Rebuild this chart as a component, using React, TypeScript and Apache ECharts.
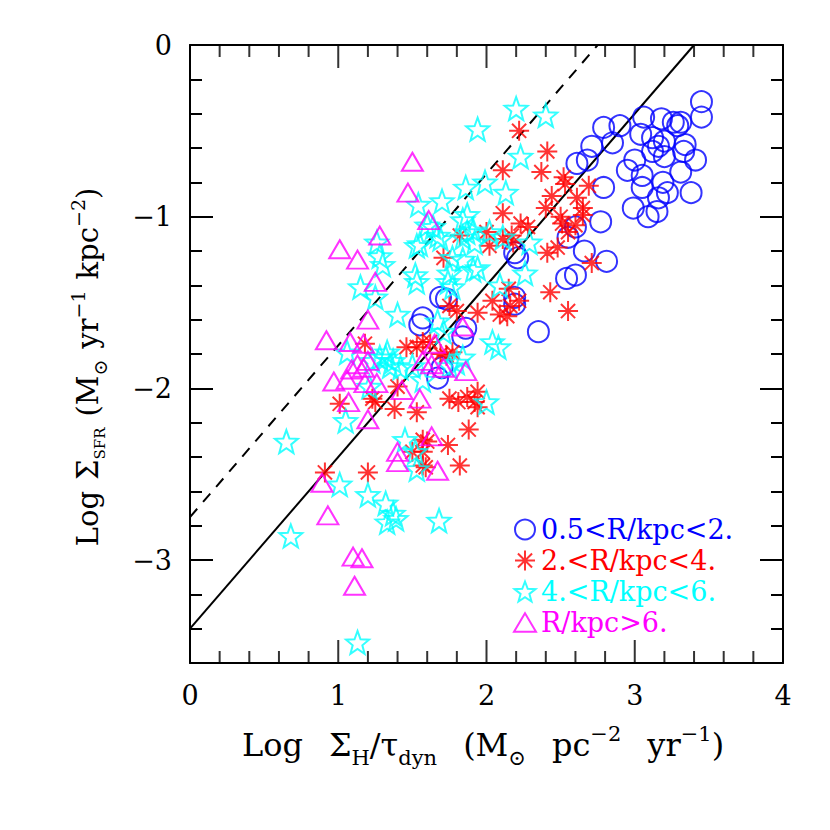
import React, { useEffect, useRef } from "react";
import * as echarts from "echarts";

// ---- data (Log Σ_H/τ_dyn , Log Σ_SFR) ----
const innerPoints: number[][] = [
  [3.45, -0.33], [3.45, -0.42], [2.79, -0.48], [2.90, -0.47], [3.04, -0.52], [3.06, -0.42],
  [3.18, -0.43], [3.26, -0.45], [3.31, -0.45], [3.29, -0.47], [3.12, -0.54], [3.20, -0.56],
  [3.16, -0.59], [3.34, -0.58], [3.33, -0.62], [3.41, -0.67], [3.12, -0.62], [3.20, -0.65],
  [3.00, -0.67], [2.95, -0.73], [3.05, -0.76], [3.31, -0.74], [3.05, -0.83], [3.19, -0.80],
  [3.22, -0.86], [3.16, -0.89], [3.38, -0.86], [2.99, -0.95], [3.09, -1.00], [3.15, -0.97],
  [2.85, -0.57], [2.71, -0.59], [2.68, -0.67], [2.61, -0.69], [2.79, -0.83], [2.77, -1.03],
  [2.60, -1.06], [2.55, -1.12], [2.66, -1.20], [2.81, -1.26], [2.60, -1.34], [2.54, -1.36],
  [2.19, -1.21], [2.21, -1.24], [2.19, -1.47], [2.19, -1.51], [2.35, -1.67], [1.69, -1.47],
  [1.73, -1.48], [1.57, -1.59], [1.55, -1.63], [1.67, -1.94], [1.70, -1.88], [1.84, -1.70],
  [1.86, -1.65],
];

const midPoints: number[][] = [
  [2.22, -0.50], [2.41, -0.62], [2.37, -0.74], [2.11, -0.73], [2.11, -0.98], [2.23, -1.04],
  [2.28, -1.06], [2.44, -0.88], [2.40, -0.95], [2.52, -0.77], [2.53, -0.81], [2.61, -0.89],
  [2.69, -0.82], [2.65, -0.95], [2.65, -0.99], [2.50, -1.00], [2.51, -1.04], [2.55, -1.09],
  [2.48, -1.18], [2.41, -1.21], [2.02, -1.17], [2.18, -1.15], [2.71, -1.27], [2.43, -1.44],
  [2.15, -1.42], [2.00, -1.09], [2.60, -1.05], [2.55, -1.55], [2.04, -1.49], [2.14, -1.58],
  [2.22, -1.49], [1.82, -1.11], [2.17, -1.11], [2.11, -1.13], [1.71, -1.24], [2.16, -1.52],
  [2.09, -1.57], [1.75, -1.52], [1.80, -1.55], [1.94, -1.56], [1.57, -1.73], [1.53, -1.76],
  [1.46, -1.76], [1.62, -1.73], [1.73, -1.81], [1.77, -1.79], [1.40, -1.99], [1.25, -2.08],
  [1.38, -2.12], [1.53, -2.14], [1.75, -2.06], [1.81, -2.08], [1.87, -2.05], [1.94, -2.02],
  [1.94, -2.11], [1.88, -2.24], [1.18, -1.74], [1.01, -2.09], [1.23, -2.06], [1.57, -2.30],
  [1.74, -2.33], [1.57, -2.37], [1.82, -2.45], [1.57, -2.45], [1.20, -2.49], [0.91, -2.49],
  [1.92, -2.08], [1.50, -2.37], [1.59, -2.46], [1.60, -2.31], [1.69, -1.80],
];

const outerPoints: number[][] = [
  [2.20, -0.37], [2.40, -0.41], [1.94, -0.49], [2.23, -0.65], [2.13, -0.86], [1.99, -0.80],
  [1.86, -0.83], [1.70, -0.91], [1.54, -0.93], [1.87, -0.99], [2.02, -1.09], [2.29, -1.15],
  [2.26, -1.33], [2.09, -1.40], [1.67, -1.11], [1.60, -1.05], [1.53, -1.17], [1.84, -1.12],
  [1.91, -1.08], [1.77, -1.24], [1.91, -1.31], [1.74, -1.38], [1.52, -1.34], [1.53, -1.38],
  [1.26, -1.15], [1.28, -1.23], [1.30, -1.28], [1.15, -1.41], [1.25, -1.47], [1.84, -1.02],
  [1.87, -1.09], [1.92, -1.15], [2.11, -1.12], [1.64, -1.06], [1.55, -1.16], [1.69, -1.13],
  [1.84, -1.25], [1.94, -1.30], [1.75, -1.33], [1.77, -1.41], [1.40, -1.57], [1.67, -1.61],
  [1.71, -1.67], [1.33, -1.79], [1.28, -1.82], [1.37, -1.84], [1.23, -1.84], [1.42, -1.88],
  [1.50, -1.87], [1.57, -1.95], [1.75, -1.87], [1.84, -1.82], [2.00, -2.08], [2.04, -1.73],
  [1.05, -2.19], [0.65, -2.31], [2.08, -1.76], [1.45, -2.30], [1.53, -2.47], [1.80, -1.85],
  [1.52, -2.37], [1.32, -1.82], [1.35, -1.87], [1.01, -2.56], [1.20, -2.62], [1.32, -2.67],
  [1.33, -2.78], [1.39, -2.76], [1.68, -2.77], [0.68, -2.86], [1.13, -3.48], [1.37, -2.73],
  [1.06, -1.79], [1.21, -1.99],
];

const farPoints: number[][] = [
  [1.50, -0.68], [1.47, -0.86], [1.61, -1.02], [1.28, -1.11], [1.01, -1.19], [1.13, -1.25],
  [1.25, -1.38], [1.20, -1.60], [0.92, -1.72], [1.08, -1.73], [1.17, -1.74], [1.13, -1.86],
  [1.20, -1.84], [1.17, -1.88], [1.09, -1.89], [0.97, -1.96], [1.06, -1.95], [1.18, -1.97],
  [1.26, -1.97], [1.07, -2.08], [1.20, -2.18], [1.43, -2.01], [1.55, -2.06], [1.63, -2.28],
  [1.40, -2.37], [1.40, -2.43], [1.67, -2.48], [1.84, -1.64], [1.86, -1.90], [1.57, -1.84],
  [1.63, -1.86], [1.71, -1.88], [0.89, -2.55], [0.93, -2.74], [1.10, -2.98], [1.16, -2.99],
  [1.11, -3.15], [1.65, -1.74],
];

// reference relations: Log Σ_SFR = Log Σ_H/τ_dyn + intercept
const solidIntercept = -3.4;
const dashedIntercept = -2.75;

const xRange = [0, 4];
const yRange = [-3.6, 0];
const xMajorTicks = [0, 1, 2, 3, 4];
const yMajorTicks = [-3, -2, -1, 0];
const minorStep = 0.2;

const legendNames = ["0.5<R/kpc<2.", "2.<R/kpc<4.", "4.<R/kpc<6.", "R/kpc>6."];
const colors = ["#0000ff", "#ff0000", "#00ffff", "#ff00ff"];

const FONT = "DejaVu Serif";
const GRID = { left: 190, top: 45, width: 593, height: 618 };
const MAJOR_LEN = 23;
const MINOR_LEN = 12;

function starPath(): string {
  const pts: string[] = [];
  for (let k = 0; k < 10; k++) {
    const r = k % 2 === 0 ? 1 : 0.42;
    const a = -Math.PI / 2 + (k * Math.PI) / 5;
    pts.push(`${(r * Math.cos(a)).toFixed(3)},${(r * Math.sin(a)).toFixed(3)}`);
  }
  return "path://M" + pts.join("L") + "Z";
}
const STAR = starPath();
const ASTER =
  "path://M0,-1L0,1M-1,0L1,0M-0.707,-0.707L0.707,0.707M-0.707,0.707L0.707,-0.707";
const TRI = "path://M0,-0.85L1,0.85L-1,0.85Z";
const CIRC = "circle";

const symbols = [CIRC, ASTER, STAR, TRI];
const sizes: any[] = [21, 20, 23, [21, 18]];

const makeRich = (main: number, small: number, tiny: number, sp: number) => ({
  sub: { fontFamily: FONT, fontSize: small, lineHeight: small, padding: [Math.round(main * 0.78), 0, 0, 0], verticalAlign: "top", fill: "#000" },
  sup: { fontFamily: FONT, fontSize: small, lineHeight: small, padding: [1, 0, 0, 0], verticalAlign: "top", fill: "#000" },
  ssub: { fontFamily: FONT, fontSize: tiny, lineHeight: tiny, padding: [Math.round(main * 0.86), 0, 0, 0], verticalAlign: "top", fill: "#000" },
  sp: { fontFamily: FONT, fontSize: main, width: sp },
});

const fmtInt = (neg: boolean) => (v: number) => {
  const r = Math.round(v);
  if (Math.abs(v - r) > 1e-6) return "";
  if (r === 0) return "0";
  return neg ? "\u2212" + Math.abs(r) : String(r);
};

// x tick values along the bottom and top frame
const xTickValues: number[] = [];
for (let i = 0; i <= Math.round((xRange[1] - xRange[0]) / minorStep); i++) {
  xTickValues.push(+(xRange[0] + i * minorStep).toFixed(4));
}

export default function App() {
  const ref = useRef<HTMLDivElement>(null);
  useEffect(() => {
    if (!ref.current) return;
    const chart = echarts.init(ref.current, undefined, { renderer: "svg" });
    const line = () => ({ show: true, onZero: false, lineStyle: { color: "#000", width: 2 } });
    const noLine = () => ({ show: false, onZero: false });
    const tickStyle = () => ({ color: "#000", width: 2 });

    const xAxisDef = (pos: string, labels: boolean) => ({
      type: "value",
      min: xRange[0],
      max: xRange[1],
      interval: 1,
      position: pos,
      axisLine: line(),
      axisTick: { show: false },
      splitLine: { show: false },
      axisLabel: {
        show: labels,
        fontFamily: FONT,
        fontSize: 27,
        color: "#000",
        margin: 19,
      },
    });
    const yMinor = (pos: string, labels: boolean) => ({
      type: "value",
      min: yRange[0],
      max: yRange[1],
      interval: minorStep,
      position: pos,
      axisLine: line(),
      axisTick: { show: true, inside: true, length: MINOR_LEN, lineStyle: tickStyle() },
      splitLine: { show: false },
      axisLabel: {
        show: labels,
        fontFamily: FONT,
        fontSize: 27,
        color: "#000",
        margin: 18,
        formatter: fmtInt(true),
      },
    });
    const yMajor = (pos: string) => ({
      type: "value",
      min: yRange[0],
      max: yRange[1],
      position: pos,
      axisLine: noLine(),
      axisTick: { show: true, inside: true, length: MAJOR_LEN, lineStyle: tickStyle(), customValues: yMajorTicks },
      splitLine: { show: false },
      axisLabel: { show: false },
    });

    const scatter = (i: number, data: number[][]) => ({
      type: "scatter",
      name: legendNames[i],
      data,
      xAxisIndex: 0,
      yAxisIndex: 0,
      symbol: symbols[i],
      symbolSize: sizes[i],
      itemStyle: { color: "rgba(0,0,0,0)", borderColor: colors[i], borderWidth: 2 },
      emphasis: { disabled: true },
      z: 3,
    });

    // tick marks drawn as thin rect symbols anchored on the frame edges
    const tickItems = (edgeY: number, dir: number) =>
      xTickValues.map((v) => {
        const L = xMajorTicks.includes(v) ? MAJOR_LEN : MINOR_LEN;
        return {
          value: [v, edgeY],
          symbolSize: [2, L],
          symbolOffset: [0, (dir * L) / 2],
        };
      });
    const tickSeries = (edgeY: number, dir: number) => ({
      type: "scatter",
      name: "__ticks" + dir,
      data: tickItems(edgeY, dir),
      xAxisIndex: 0,
      yAxisIndex: 0,
      symbol: "rect",
      clip: false,
      silent: true,
      itemStyle: { color: "#000", borderWidth: 0 },
      emphasis: { disabled: true },
      z: 4,
    });

    const lineData = (b: number) => [
      [0, b],
      [-b, 0],
    ];

    const option: any = {
      animation: false,
      grid: { ...GRID, containLabel: false },
      xAxis: [xAxisDef("bottom", true), xAxisDef("top", false)],
      yAxis: [yMinor("left", true), yMajor("left"), yMinor("right", false), yMajor("right")],
      legend: {
        orient: "vertical",
        left: 508,
        top: 511,
        itemWidth: 22,
        itemHeight: 20,
        itemGap: 4,
        selectedMode: false,
        textStyle: { fontFamily: FONT, fontSize: 27 },
        data: legendNames.map((n, i) => ({
          name: n,
          icon: symbols[i],
          itemStyle: { color: "rgba(0,0,0,0)", borderColor: colors[i], borderWidth: 2 },
          textStyle: { color: colors[i], fontFamily: FONT, fontSize: 27 },
        })),
      },
      series: [
        {
          type: "line",
          data: lineData(solidIntercept),
          showSymbol: false,
          symbol: "none",
          lineStyle: { color: "#000", width: 2, type: "solid" },
          z: 2,
        },
        {
          type: "line",
          data: lineData(dashedIntercept),
          showSymbol: false,
          symbol: "none",
          lineStyle: { color: "#000", width: 2, type: [11, 9] },
          z: 2,
        },
        scatter(0, innerPoints),
        scatter(1, midPoints),
        scatter(2, outerPoints),
        scatter(3, farPoints),
        tickSeries(yRange[0], -1),
        tickSeries(yRange[1], 1),
      ],
      graphic: [
        {
          type: "text",
          x: 483,
          y: 745,
          style: {
            text: "Log{sp| }Σ{sub|H}/τ{sub|dyn}{sp| }(M{sub|⊙}{sp| }pc{sup|−2}{sp| }yr{sup|−1})",
            fontFamily: FONT,
            fontSize: 32,
            fill: "#000",
            align: "center",
            verticalAlign: "middle",
            lineHeight: 46,
            rich: makeRich(32, 21, 16, 26),
          },
        },
        {
          type: "text",
          x: 88,
          y: 367,
          rotation: Math.PI / 2,
          style: {
            text: "Log{sp| }Σ{ssub|SFR}{sp| }(M{sub|⊙}{sp| }yr{sup|−1}{sp| }kpc{sup|−2})",
            fontFamily: FONT,
            fontSize: 29,
            fill: "#000",
            align: "center",
            verticalAlign: "middle",
            lineHeight: 42,
            rich: makeRich(29, 19, 15, 11),
          },
        },
      ],
    };
    chart.setOption(option);
    return () => chart.dispose();
  }, []);
  return (
    <div
      ref={ref}
      style={{ position: "fixed", left: 0, top: 0, width: 830, height: 830, background: "#fff" }}
    />
  );
}
